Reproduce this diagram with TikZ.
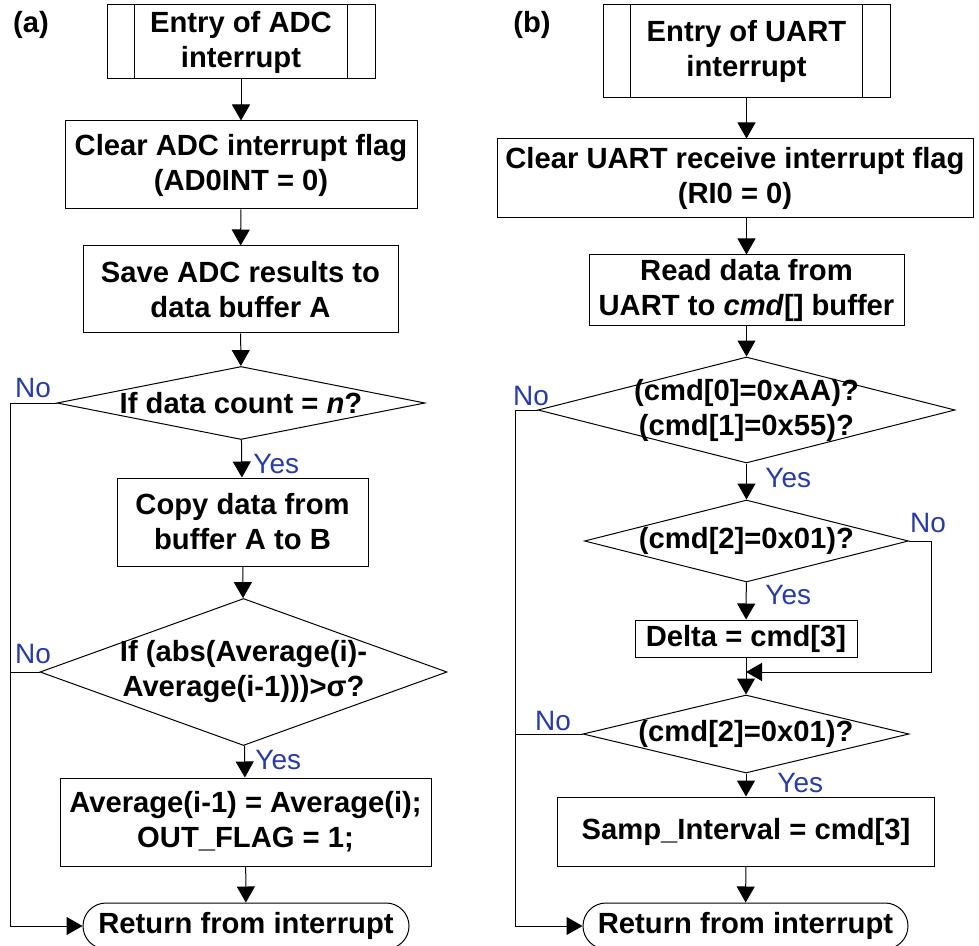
\documentclass[tikz,border=0pt]{standalone}
\usepackage{fontspec}
\setmainfont{Liberation Sans}
\usetikzlibrary{shapes.geometric,shapes.misc,arrows.meta}
\definecolor{yesno}{RGB}{40,60,165}
\tikzset{
	blk/.style={draw, line width=0.5pt, align=center, inner sep=0pt, font=\fontsize{14.6pt}{17.5pt}\selectfont\bfseries},
	dec/.style={draw, diamond, line width=0.5pt, inner sep=0pt},
	dectxt/.style={align=center, inner sep=0pt, font=\fontsize{14.6pt}{17.5pt}\selectfont\bfseries},
	ret/.style={blk, rounded rectangle},
	lbl/.style={text=yesno, inner sep=0pt, font=\fontsize{14pt}{16pt}\selectfont},
	tag/.style={inner sep=0pt, font=\fontsize{14.6pt}{17.5pt}\selectfont\bfseries},
	flow/.style={line width=0.5pt, -{Triangle[width=9pt,length=8pt]}},
	wire/.style={line width=0.5pt}
}
\begin{document}
\begin{tikzpicture}[x=0.5pt,y=-0.5pt]
		\useasboundingbox (0,0) rectangle (979,946);
		
		%(a) ADC interrupt
		\node[tag] (tagA) at (31,25) {(a)};
		\node[blk, minimum width=134pt, minimum height=37pt] (entA) at (241,42) {Entry of ADC\\interrupt};
		\draw[wire] ([xshift=14pt]entA.north west) -- ([xshift=14pt]entA.south west);
		\draw[wire] ([xshift=-14pt]entA.north east) -- ([xshift=-14pt]entA.south east);
		\node[blk, minimum width=176pt, minimum height=44pt] (clrA) at (241,165) {Clear ADC interrupt flag\\(AD0INT = 0)};
		\node[blk, minimum width=157.5pt, minimum height=43.5pt] (savA) at (240.5,289.5) {Save ADC results to\\data buffer A};
		\node[dec, minimum width=184pt, minimum height=36.5pt] (decA1) at (241,403) {};
		\node[dectxt] (decA1t) at (decA1) {If data count = \textit{n}?};
		\node[blk, minimum width=125.5pt, minimum height=44pt] (cpyA) at (242.5,522) {Copy data from\\buffer A to B};
		\node[dec, minimum width=203.5pt, minimum height=73.5pt] (decA2) at (243.5,672) {};
		\node[dectxt] (decA2t) at (decA2) {If (abs(Average(i)-\\Average(i-1)))>σ?};
		\node[blk, minimum width=185.5pt, minimum height=44pt] (avgA) at (245.5,822) {Average(i-1) = Average(i);\\OUT\_FLAG = 1;};
		\node[ret, minimum width=163pt, minimum height=23pt] (retA) at (246,926) {Return from interrupt};
		
		\draw[flow] (entA) -- (clrA);
		\draw[flow] (clrA) -- (savA);
		\draw[flow] (savA) -- (decA1);
		\draw[flow] (decA1) -- (cpyA);
		\draw[flow] (cpyA) -- (decA2);
		\draw[flow] (decA2) -- (avgA);
		\draw[flow] (avgA) -- (retA);
		
		%No branches (a)
		\coordinate (busA) at (10,403);
		\draw[flow] (decA1.west) -- (busA) |- (retA.west);
		\draw[wire] (decA2.west) -- (decA2.west -| busA);
		
		\node[lbl] (noA1) at (33,388) {No};
		\node[lbl] (noA2) at (33,654) {No};
		\node[lbl, anchor=west] (yesA1) at (253,464) {Yes};
		\node[lbl, anchor=west] (yesA2) at (255,760) {Yes};
		
		%(b) UART interrupt
		\node[tag] (tagB) at (532,25) {(b)};
		\node[blk, minimum width=143.5pt, minimum height=46.5pt] (entB) at (746.5,51.5) {Entry of UART\\interrupt};
		\draw[wire] ([xshift=14pt]entB.north west) -- ([xshift=14pt]entB.south west);
		\draw[wire] ([xshift=-14pt]entB.north east) -- ([xshift=-14pt]entB.south east);
		\node[blk, minimum width=238pt, minimum height=39.5pt] (clrB) at (735,178.5) {Clear UART receive interrupt flag\\(RI0 = 0)};
		\node[blk, minimum width=157.5pt, minimum height=35.5pt] (rdB) at (746.5,290.5) {Read data from\\UART to \textit{cmd}[] buffer};
		\node[dec, minimum width=208.5pt, minimum height=53pt] (decB1) at (746.5,410) {};
		\node[dectxt] (decB1t) at (decB1) {(cmd[0]=0xAA)?\\(cmd[1]=0x55)?};
		\node[dec, minimum width=162pt, minimum height=41pt] (decB2) at (746.5,541) {};
		\node[dectxt] (decB2t) at (decB2) {(cmd[2]=0x01)?};
		\node[blk, minimum width=111pt, minimum height=18.5pt] (dltB) at (746,638.5) {Delta = cmd[3]};
		\node[dec, minimum width=163pt, minimum height=39pt] (decB3) at (746,734) {};
		\node[dectxt] (decB3t) at (decB3) {(cmd[2]=0x01)?};
		\node[blk, minimum width=188.5pt, minimum height=34.5pt] (smpB) at (746,831.5) {Samp\_Interval = cmd[3]};
		\node[ret, minimum width=162.5pt, minimum height=23pt] (retB) at (745.5,926) {Return from interrupt};
		
		\draw[flow] (entB.south) -- (entB.south |- clrB.north);
		\draw[flow] (rdB.north |- clrB.south) -- (rdB.north);
		\draw[flow] (rdB) -- (decB1);
		\draw[flow] (decB1) -- (decB2);
		\draw[flow] (decB2) -- (dltB);
		\draw[flow] (dltB) -- (decB3);
		\draw[flow] (decB3) -- (smpB);
		\draw[flow] (smpB) -- (retB);
		
		%No branches (b)
		\coordinate (busB) at (515,410);
		\coordinate (joinB) at (746,672);
		\draw[flow] (decB1.west) -- (busB) |- (retB.west);
		\draw[wire] (decB3.west) -- (decB3.west -| busB);
		\draw[flow] (decB2.east) -- (931,541) |- (joinB);
		
		\node[lbl] (noB1) at (531,396) {No};
		\node[lbl] (noB2) at (928,523) {No};
		\node[lbl] (noB3) at (553,721) {No};
		\node[lbl, anchor=west] (yesB1) at (765,478) {Yes};
		\node[lbl, anchor=west] (yesB2) at (765,595) {Yes};
		\node[lbl, anchor=west] (yesB3) at (777,783) {Yes};
		
\end{tikzpicture}
\end{document}
